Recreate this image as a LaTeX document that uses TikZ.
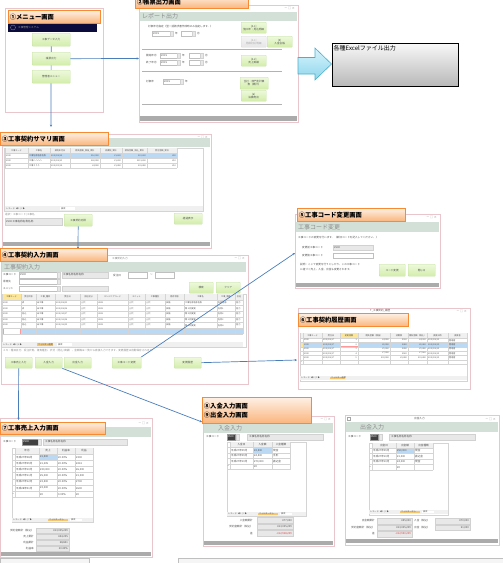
\documentclass[tikz,border=0pt]{standalone}
\usepackage{fontspec}
\setmainfont{Noto Sans CJK JP}
\usetikzlibrary{arrows.meta}

\definecolor{winedge}{HTML}{E8C6CB}
\definecolor{bandc}{HTML}{D3E0D8}
\definecolor{btntop}{HTML}{EEF9DD}
\definecolor{btnbot}{HTML}{D2EDA9}
\definecolor{btnedge}{HTML}{C6E2A2}
\definecolor{lbledge}{HTML}{F68B33}
\definecolor{lbltop}{HTML}{FEF0E4}
\definecolor{lblbot}{HTML}{FAB57C}
\definecolor{linkc}{HTML}{4A7EBB}
\definecolor{barc}{HTML}{ABABAB}
\definecolor{selc}{HTML}{BCD9F4}
\definecolor{navyc}{HTML}{0C0C3C}
\definecolor{hdrc}{HTML}{F0F0F0}
\definecolor{gridc}{HTML}{D4D4D4}
\definecolor{chipc}{HTML}{F7C56B}
\definecolor{yelc}{HTML}{FBE69A}
\definecolor{arrtop}{HTML}{D8F4FC}
\definecolor{arrbot}{HTML}{8ED6EC}
\definecolor{arredge}{HTML}{4BAFCB}
\definecolor{minus}{HTML}{E03C3C}

\tikzset{
  win/.style={draw=winedge, line width=0.7pt},
  lbl/.style={draw=lbledge, line width=0.8pt, top color=lbltop, bottom color=lblbot,
    anchor=north west, inner xsep=1.5pt, inner ysep=0pt, align=left,
    font=\fontsize{6.3}{7.6}\selectfont\bfseries},
  btn/.style={draw=btnedge, line width=0.35pt, top color=btntop, bottom color=btnbot,
    rounded corners=0.6pt, anchor=north west, inner sep=0pt, align=center,
    font=\fontsize{2.6}{3.1}\selectfont, text=black!70},
  offbtn/.style={btn, top color=black!4, bottom color=black!10, draw=black!15, text=black!35},
  tx/.style={font=\fontsize{2.6}{3}\selectfont, text=black!70, inner sep=0pt, anchor=west},
  txs/.style={font=\fontsize{2.1}{2.4}\selectfont, text=black!70, inner sep=0pt},
  ttl/.style={font=\fontsize{6}{7}\selectfont, text=black!45, inner sep=0pt, anchor=west},
  wbox/.style={draw=black!25, line width=0.3pt, fill=white},
  gbox/.style={draw=black!18, line width=0.3pt, fill=black!9},
  dbox/.style={draw=black!40, line width=0.3pt, fill=black!75},
  gl/.style={draw=gridc, line width=0.25pt},
  sep/.style={draw=black!30, line width=1pt},
  navbar/.style={fill=black!6},
  chip/.style={fill=chipc},
  conn/.style={draw=linkc, line width=0.7pt, -{Stealth[length=2.4pt,width=2.2pt]}},
  icons/.style={font=\fontsize{3}{3}\selectfont, text=black!50, inner sep=0pt, anchor=east},
}
% small cell texts: left, right and centred
\newcommand\txL[3]{\node[tx] at (#1,#2) {#3};}
\newcommand\txR[3]{\node[tx, anchor=east] at (#1,#2) {#3};}
\newcommand\txC[3]{\node[tx, anchor=center] at (#1,#2) {#3};}
\newcommand\sxL[3]{\node[txs, anchor=west] at (#1,#2) {#3};}
\newcommand\sxR[3]{\node[txs, anchor=east] at (#1,#2) {#3};}
\newcommand\sxC[3]{\node[txs, anchor=center] at (#1,#2) {#3};}

\begin{document}
\begin{tikzpicture}[x=1pt, y=-1pt]
\useasboundingbox (0,0) rectangle (503,563);

% ---------- (1) menu ----------
\draw[win] (5,8) rectangle (103,112);
\fill[navyc] (8,23) rectangle (97,32);
\draw[black!45, line width=0.3pt] (13,27.5) circle (2.5);
\node[tx, text=black!40] at (18,27.5) {工事管理システム};
\node[btn, minimum width=38pt, minimum height=13pt] (m1) at (32,33) {工事データ入力};
\coordinate (t3) at (51,127);
\draw[conn] (m1.south) -- (t3);
\node[btn, minimum width=38pt, minimum height=13pt] (m2) at (32,52) {帳票出力};
\node[btn, minimum width=38pt, minimum height=13pt] (m3) at (32,70) {管理者メニュー};
\node[lbl, text width=89pt, minimum height=13pt] (l1) at (8,10) {①メニュー画面};
\coordinate (e2) at (139,58.5);
\draw[conn] (m2.east) -- (e2);

% ---------- (2) report output ----------
\draw[win] (139,5) rectangle (298,122);
\node[icons] at (295,8.5) {－ □ ×};
\fill[bandc] (140,12) rectangle (297,21);
\node[ttl] at (142,16.5) {レポート出力};
\txL{148}{27}{対象年月指定（翌一括請求書作成時のみ指定します。）}
\draw[wbox] (152,31) rectangle (172,36); \txL{153}{33.5}{2015}
\draw[gbox] (170,31) rectangle (173,36); \txL{175}{33.5}{年}
\draw[wbox] (181,31) rectangle (195,36); \draw[gbox] (192,31) rectangle (195,36);
\txL{197}{33.5}{月}
\node[btn, minimum width=25pt, minimum height=11pt] (r1) at (241,22) {[4-1]\\施工年・見込明細};
\node[offbtn, minimum width=25pt, minimum height=11pt] (r2) at (241,36) {[4-1]\\見積対応明細};
\node[btn, minimum width=25pt, minimum height=11pt] (r3) at (267,36) {[5]\\入金台帳};
\draw[sep] (142,49) -- (282,49);
\txL{146}{55.5}{開始年月}
\draw[wbox] (160,53) rectangle (180,58); \txL{161}{55.5}{2015}
\draw[gbox] (177,53) rectangle (180,58); \txL{182}{55.5}{年}
\draw[wbox] (189,53) rectangle (203,58); \draw[gbox] (200,53) rectangle (203,58);
\txL{205}{55.5}{月}
\txL{146}{62.5}{終了年月}
\draw[wbox] (160,60) rectangle (180,65); \txL{161}{62.5}{2015}
\draw[gbox] (177,60) rectangle (180,65); \txL{182}{62.5}{年}
\draw[wbox] (189,60) rectangle (203,65); \draw[gbox] (200,60) rectangle (203,65);
\txL{205}{62.5}{月}
\node[btn, minimum width=25pt, minimum height=11pt] (r4) at (241,55) {[4-2]\\売上実績};
\draw[sep] (142,71) -- (282,71);
\txL{146}{81.5}{対象年}
\draw[wbox] (163,79) rectangle (183,84); \txL{164}{81.5}{2015}
\draw[gbox] (180,79) rectangle (183,84); \txL{185}{81.5}{年}
\node[btn, minimum width=28pt, minimum height=12pt] (r5) at (240,77) {全社・部門別計算\\表（累計）};
\node[btn, minimum width=25pt, minimum height=11pt] (r6) at (241,90) {[6]\\決算用出};
\draw[sep] (142,104) -- (282,104);
\fill[barc] (140,116) rectangle (297,121);
\node[lbl, text width=110pt, minimum height=13pt] (l2) at (135,-5) {②帳票出力画面};

% arrow to the Excel output box
\draw[arredge, line width=0.6pt, top color=arrtop, bottom color=arrbot]
  (298,57.5) -- (315,57.5) -- (315,48) -- (331.5,64) -- (315,80) -- (315,74) -- (298,74) -- cycle;
\node[draw=black, line width=0.9pt, top color=black!3, bottom color=black!28,
  anchor=north west, minimum width=126pt, minimum height=43pt, inner sep=0pt] (xl) at (332,43) {};
\node[font=\fontsize{6}{7}\selectfont, inner sep=0pt, anchor=north west]
  (xlt) at ([shift={(1.5,2)}]xl.north west) {各種Excelファイル出力};

% ---------- (3) contract summary ----------
\draw[win] (2,134) rectangle (211,248);
\node[icons] at (208,137.5) {－ □ ×};
\fill[bandc] (3,138) rectangle (210,147);
\draw[gl, fill=white] (4,148) rectangle (203,211);
\fill[hdrc] (5,148) rectangle (177,153);
\fill[selc] (28,153) rectangle (177,158);
\foreach \yy in {153,158,163,168} \draw[gl] (5,\yy) -- (177,\yy);
\foreach \xx in {5,28,50,70,100,122,147,177} \draw[gl] (\xx,148) -- (\xx,168);
\sxC{16.5}{150.5}{工事コード} \sxC{39}{150.5}{工事名} \sxC{60}{150.5}{契約年月日}
\sxC{85}{150.5}{請負金額\_税抜\_累計} \sxC{111}{150.5}{消費税\_累計}
\sxC{134.5}{150.5}{請負金額\_税込\_累計} \sxC{162}{150.5}{受注金額\_累計}
\sxL{6}{155.5}{2500} \sxL{29}{155.5}{工事名称名称名称} \sxL{51}{155.5}{2015/08/20}
\sxR{99}{155.5}{¥16,000} \sxR{121}{155.5}{¥1,280} \sxR{146}{155.5}{¥23,280} \sxR{176}{155.5}{¥80}
\sxL{6}{160.5}{2500} \sxL{29}{160.5}{工事ハハハハ} \sxL{51}{160.5}{2015/08/25}
\sxR{99}{160.5}{¥80,000} \sxR{121}{160.5}{¥1,200} \sxR{146}{160.5}{¥151,200} \sxR{176}{160.5}{¥10}
\sxL{6}{165.5}{2500} \sxL{29}{165.5}{工事ううう} \sxL{51}{165.5}{2015/09/10}
\sxR{99}{165.5}{¥4,000} \sxR{121}{165.5}{¥1,400} \sxR{146}{165.5}{¥38,400} \sxR{176}{165.5}{¥10}
\fill[navbar] (5,206) rectangle (203,211);
\sxL{6}{208.5}{レコード: ◀ 1 / 3 ▶} \fill[white] (60,207) rectangle (75,210); \sxL{61}{208.5}{検索}
\node[tx, text=black!45] at (5,215) {選択：工事コード/工事名};
\draw[gbox] (5,218) rectangle (62,225); \txL{6}{221.5}{2500 工事名称名称名称}
\node[btn, minimum width=28pt, minimum height=12pt] (s1) at (64,214) {工事契約内訳};
\node[btn, minimum width=28pt, minimum height=11pt] (s2) at (174,213) {経過表示};
\fill[barc] (3,242) rectangle (210,246);
\node[lbl, text width=105pt, minimum height=13pt] (l3) at (0,132) {③工事契約サマリ画面};
\coordinate (t4) at (78,249);
\draw[conn] (s1.south) -- (t4);

% ---------- (4) contract input ----------
\draw[win] (1,255) rectangle (248,384);
\node[tx, text=black!50] at (112,259) {工事契約入力};
\node[icons] at (245,258.5) {－ □ ×};
\fill[bandc] (2,262) rectangle (246,272);
\node[ttl] at (4,267) {工事契約入力};
\txL{3}{275}{工事コード}
\draw[wbox] (19,272) rectangle (58,278); \txL{20}{275}{2500}
\draw[gbox] (57,272) rectangle (60,278);
\draw[gbox] (62,272) rectangle (108,278); \txL{63}{275}{工事名称名称名称}
\txL{113}{275}{受注日}
\draw[wbox] (128,272) rectangle (147,278); \txL{150}{275}{～}
\draw[wbox] (155,272) rectangle (174,278);
\txL{3}{281.5}{得意先}
\draw[wbox] (19,279) rectangle (58,284); \draw[gbox] (57,279) rectangle (60,284);
\txL{3}{288.5}{ユニット}
\draw[wbox] (19,286) rectangle (58,291); \draw[gbox] (57,286) rectangle (60,291);
\draw[gbox] (62,286) rectangle (108,291);
\node[btn, minimum width=24pt, minimum height=11pt] (q1) at (189,282) {検索};
\node[btn, minimum width=24pt, minimum height=11pt] (q2) at (216,282) {クリア};
\draw[gl, fill=white] (2,294) rectangle (246,347);
\fill[hdrc] (2,294) rectangle (243,300);
\fill[yelc] (2,294) rectangle (21,300);
\fill[selc] (21,328) rectangle (243,334);
\draw[red!40, line width=0.4pt, fill=white] (3,328.3) rectangle (20.5,333.7);
\foreach \yy in {300,305.6,311.2,316.8,322.4,328,334} \draw[gl] (2,\yy) -- (243,\yy);
\foreach \xx in {2,21,36,55,80,97,128,145,165,184,217,235,243} \draw[gl] (\xx,294) -- (\xx,334);
\sxC{11.5}{297}{工事コード} \sxC{28.5}{297}{受注状態} \sxC{45.5}{297}{工事\_種目}
\sxC{67.5}{297}{受注日} \sxC{88.5}{297}{会社区分} \sxC{112.5}{297}{エンジニアコード}
\sxC{136.5}{297}{ユニット} \sxC{155}{297}{工事種別} \sxC{174.5}{297}{請求状態}
\sxC{200.5}{297}{工事名} \sxC{226}{297}{工事\_略称} \sxC{239}{297}{会社}
\foreach \yy/\st/\dt/\nm/\ab in {302.8/済/08{/}05/工事名称名称名称/名称名称,
  308.4/済/08{/}06/第１回変更/名称1, 314/見込/10{/}07/第２回変更/名称2,
  319.6/見込/11{/}08/第３回変更/名称3, 325.2/見込/12{/}09/第４回変更/名称4} {
  \sxL{3}{\yy}{2500} \sxL{22}{\yy}{\st} \sxL{37}{\yy}{未工事}
  \sxL{56}{\yy}{2015/\dt} \sxL{81}{\yy}{上代} \sxL{98}{\yy}{U001}
  \sxL{129}{\yy}{上代} \sxL{146}{\yy}{上代} \sxL{166}{\yy}{承諾}
  \sxL{185}{\yy}{\nm} \sxL{218}{\yy}{\ab} \sxL{236}{\yy}{協力}
}
\fill[navbar] (2,342) rectangle (243,347);
\sxL{3}{344.5}{レコード: ◀ 6 / 6 ▶}
\fill[chipc] (37,343) rectangle (53,346); \sxL{38}{344.5}{フィルター適用}
\fill[white] (57,343) rectangle (72,346); \sxL{58}{344.5}{検索}
\node[tx, text=black!45] at (3,351)
  {メモ：種目区分、受注状態、請負種別、状況（見込/実績）、金額等は一覧から直接入力できます。変更履歴は自動保存されます。};
\node[btn, minimum width=27pt, minimum height=11pt] (u1) at (5,357) {工事売上入力};
\node[btn, minimum width=27pt, minimum height=11pt] (u2) at (35,357) {入金入力};
\node[btn, minimum width=27pt, minimum height=11pt] (u3) at (64,357) {出金入力};
\node[btn, minimum width=29pt, minimum height=11pt] (u4) at (112,357) {工事コード変更};
\node[btn, minimum width=27pt, minimum height=11pt] (u5) at (174,357) {変更履歴};
\node[lbl, text width=104pt, minimum height=13pt] (l4) at (0,248) {④工事契約入力画面};

% ---------- (5) code change ----------
\draw[win] (295,214) rectangle (440,288);
\node[icons] at (437,217.5) {－ □ ×};
\fill[bandc] (296,222) rectangle (439,232);
\node[ttl] at (298,227) {工事コード変更};
\txL{298}{237.5}{工事コードの変更を行います。（新旧コードを記入してください。）}
\txL{302}{247.5}{変更前工事コード}
\draw[gbox] (333,245) rectangle (373,250); \txL{334}{247.5}{2500}
\txL{302}{255.5}{変更後工事コード}
\draw[wbox] (333,253) rectangle (373,258);
\txL{300}{265}{説明：ここで変更を行うとしかり、この工事コード}
\txL{300}{270}{に紐づく売上、入金、出金も変更されます。}
\node[btn, minimum width=26pt, minimum height=12pt] (c1) at (379,264) {コード変更};
\node[btn, minimum width=27pt, minimum height=12pt] (c2) at (408,264) {閉じる};
\fill[barc] (296,283) rectangle (439,287);
\node[lbl, text width=105pt, minimum height=13pt] (l5) at (297,208) {⑤工事コード変更画面};

% ---------- (6) contract history ----------
\draw[win] (298,308) rectangle (470,389);
\txL{370}{311}{T\_工事契約\_履歴}
\node[icons] at (467,311) {－ □ ×};
\draw[gl, fill=white] (300,333) rectangle (467,381);
\fill[hdrc] (300,333) rectangle (467,338);
\fill[yelc] (340,333) rectangle (358,338);
\fill[selc] (303,342.4) rectangle (467,346.8);
\fill[yelc] (300,342.4) rectangle (303,346.8);
\draw[red!40, line width=0.4pt, fill=white] (340.3,342.6) rectangle (357.7,346.6);
\foreach \yy in {338,342.4,346.8,351.2,355.6,360,364.4} \draw[gl] (300,\yy) -- (467,\yy);
\foreach \xx in {300,303,322,340,358,390,408,427,448,467} \draw[gl] (\xx,333) -- (\xx,364.4);
\sxC{312.5}{335.5}{工事コード} \sxC{331}{335.5}{受注日} \sxC{349}{335.5}{変更回数}
\sxC{374}{335.5}{請負金額（税抜）} \sxC{399}{335.5}{消費税} \sxC{417.5}{335.5}{請負金額（税込）}
\sxC{437.5}{335.5}{変更日時} \sxC{457.5}{335.5}{変更者}
\foreach \yy/\n/\a/\b/\c in {340.2/1/{¥4,000}/¥320/{¥4,320}, 344.6/2/{¥6,000}/¥480/{¥6,480},
  349/3/{¥5,000}/¥400/{¥5,400}, 353.4/4/{¥7,000}/¥560/{¥7,560}, 357.8/5/{¥30,000}/{¥2,400}/{¥32,400}} {
  \sxL{304}{\yy}{2500} \sxL{323}{\yy}{2015/08/17} \sxR{357}{\yy}{\n}
  \sxR{389}{\yy}{\a} \sxR{407}{\yy}{\b} \sxR{426}{\yy}{\c}
  \sxL{428}{\yy}{2015/08/19} \sxL{449}{\yy}{管理者}
}
\sxL{301}{362.2}{*}
\fill[navbar] (300,376) rectangle (467,380);
\sxL{301}{378}{レコード: ◀ 2 / 5 ▶}
\fill[chipc] (330,376.6) rectangle (345,379.4); \sxL{331}{378}{フィルター適用}
\node[lbl, text width=107pt, minimum height=13pt] (l6) at (298,313) {⑥工事契約履歴画面};

% ---------- (7) sales input ----------
\draw[win] (0.5,418) rectangle (152,557);
\node[icons] at (149,423) {－ □ ×};
\fill[bandc] (1,427) rectangle (151,437);
\txL{3}{442}{工事コード}
\draw[dbox] (22,439) rectangle (38,445); \node[tx, text=white] at (23,442) {2500};
\draw[gbox] (38,439) rectangle (41,445);
\draw[gbox] (43,439) rectangle (127,445); \txL{45}{442}{工事名称名称名称}
\draw[gl, fill=white] (12,448) rectangle (93,522);
\fill[hdrc] (15,448) rectangle (93,454);
\fill[selc] (39,454) rectangle (57,460.2);
\foreach \yy in {454,460.2,466.4,472.6,478.8,485,491.2,497.4} \draw[gl] (12,\yy) -- (93,\yy);
\foreach \xx in {15,39,57,75,93} \draw[gl] (\xx,448) -- (\xx,497.4);
\txC{27}{451}{年月} \txC{48}{451}{売上} \txC{66}{451}{利益率} \txC{84}{451}{利益}
\foreach \yy/\m/\s/\p in {457.1/平成27年08月/{¥1,500}/¥300, 463.3/平成27年09月/{¥1,205}/¥241,
  469.5/平成27年10月/{¥30,000}/{¥6,000}, 475.7/平成27年11月/{¥5,000}/{¥1,000},
  481.9/平成27年12月/{¥3,500}/¥700, 488.1/平成28年01月/{¥3,000}/¥600} {
  \txL{16}{\yy}{\m} \txL{40}{\yy}{\s} \txL{58}{\yy}{20.00\%} \txL{76}{\yy}{\p}
}
\txL{12.5}{494.3}{*} \txL{40}{494.3}{¥0} \txL{58}{494.3}{0.00\%} \txL{76}{494.3}{¥0}
\fill[navbar] (12,518) rectangle (93,522);
\sxL{13}{520}{レコード: ◀ 1 / 7 ▶}
\fill[chipc] (48,518.6) rectangle (68,521.4); \sxL{49}{520}{フィルターなし}
\fill[white] (70,518.6) rectangle (82,521.4); \sxL{71}{520}{検索}
\foreach \yy/\lab/\v in {530.5/契約金額計（税込）/{¥13,005,209}, 536.5/売上累計/{¥44,205},
  542.5/利益累計/{¥8,841}, 548.5/利益率/20.00\%} {
  \txR{34}{\yy}{\lab}
  \draw[gbox] (36,\yy-2.5) rectangle (69,\yy+2.5);
  \txR{68}{\yy}{\v}
}
\fill[barc] (1,552) rectangle (151,556);
\node[lbl, text width=102pt, minimum height=12pt] (l7) at (0,422) {⑦工事売上入力画面};

% ---------- (8) deposit input ----------
\draw[win] (203,416) rectangle (334,546);
\node[icons] at (331,419.5) {－ □ ×};
\fill[bandc] (204,423) rectangle (333,433);
\node[ttl] at (218,428) {入金入力};
\txL{206}{437}{工事コード}
\draw[dbox] (227,434) rectangle (235,440); \node[tx, text=white] at (227.5,437) {2500};
\draw[gbox] (236,434) rectangle (239,440);
\draw[gbox] (247,434) rectangle (323,440); \txL{249}{437}{工事名称名称名称}
\draw[gl, fill=white] (227,442) rectangle (306,516);
\fill[hdrc] (230,442) rectangle (290,447.5);
\fill[selc] (253,447.5) rectangle (272,453);
\foreach \yy in {447.5,453,458.5,464,469.5} \draw[gl] (227,\yy) -- (290,\yy);
\foreach \xx in {230,253,272,290} \draw[gl] (\xx,442) -- (\xx,469.5);
\txC{241.5}{444.8}{入金日} \txC{262.5}{444.8}{入金額} \txC{281}{444.8}{入金種類}
\foreach \yy/\d/\a/\k in {450.3/平成27年09月/{¥2,500}/現金, 455.8/平成27年09月/{¥4,500}/手形,
  461.3/平成27年10月/{¥70,000}/振込金} {
  \txL{231}{\yy}{\d} \txL{254}{\yy}{\a} \txL{273}{\yy}{\k}
}
\txL{227.5}{466.8}{*} \txL{254}{466.8}{¥0}
\fill[navbar] (227,512) rectangle (306,516);
\sxL{228}{514}{レコード: ◀ 1 / 3 ▶}
\fill[chipc] (258,512.6) rectangle (278,515.4); \sxL{259}{514}{フィルターなし}
\fill[white] (280,512.6) rectangle (292,515.4); \sxL{281}{514}{検索}
\foreach \yy/\lab/\v in {520.3/入金額累計/{¥77,000}, 526.8/契約金額計（税込）/{¥13,005,209}} {
  \txR{253}{\yy}{\lab}
  \draw[gbox] (257,\yy-2.8) rectangle (293,\yy+2.8);
  \txR{292}{\yy}{\v}
}
\txR{253}{533.3}{差}
\draw[gbox] (257,530.5) rectangle (293,536.1);
\node[tx, anchor=east, text=minus] at (292,533.3) {-¥12,928,209};
\fill[barc] (204,541) rectangle (333,545);
\node[lbl, text width=106pt, minimum height=26pt, font=\fontsize{6.3}{9}\selectfont\bfseries]
  (l8) at (202,397) {⑧入金入力画面\\⑨出金入力画面};
\coordinate (e8) at (202,422);
\draw[conn] (u2.south east) -- (e8);

% ---------- (9) payment input ----------
\draw[win] (345,415) rectangle (499,545);
\draw[black!35, line width=0.3pt] (347,417) rectangle (350,420.5);
\txL{414}{419}{出金入力}
\node[icons] at (496,419) {－ □ ×};
\fill[bandc] (346,422) rectangle (498,432);
\node[ttl] at (360,427) {出金入力};
\txL{348}{437}{工事コード}
\draw[dbox] (370,434) rectangle (378,440); \node[tx, text=white] at (370.5,437) {2500};
\draw[gbox] (379,434) rectangle (382,440);
\draw[gbox] (389,434) rectangle (475,440); \txL{391}{437}{工事名称名称名称}
\draw[gl, fill=white] (369,443) rectangle (448,515);
\fill[hdrc] (372,443) rectangle (433,448);
\fill[selc] (396,448) rectangle (414,453.5);
\foreach \yy in {448,453.5,459,464.5,470} \draw[gl] (369,\yy) -- (433,\yy);
\foreach \xx in {372,396,414,433} \draw[gl] (\xx,443) -- (\xx,470);
\txC{384}{445.5}{出金日} \txC{405}{445.5}{出金額} \txC{423.5}{445.5}{出金種類}
\foreach \yy/\d/\a/\k in {450.8/平成27年09月/{¥50,000}/現金, 456.3/平成27年10月/{¥1,000}/振込金,
  461.8/平成27年10月/{¥4,000}/現金} {
  \txL{373}{\yy}{\d} \txL{397}{\yy}{\a} \txL{415}{\yy}{\k}
}
\txL{369.5}{467.3}{*} \txL{397}{467.3}{¥0}
\fill[navbar] (369,510) rectangle (448,514);
\sxL{370}{512}{レコード: ◀ 1 / 3 ▶}
\fill[chipc] (400,510.6) rectangle (420,513.4); \sxL{401}{512}{フィルターなし}
\fill[white] (422,510.6) rectangle (434,513.4); \sxL{423}{512}{検索}
\foreach \yy/\lab/\v in {521/出金額累計/{¥55,000}, 527.5/契約金額計（税込）/{¥13,005,209}} {
  \txR{375}{\yy}{\lab}
  \draw[gbox] (377,\yy-2.8) rectangle (412,\yy+2.8);
  \txR{411}{\yy}{\v}
}
\txR{375}{534}{差}
\draw[gbox] (377,531.2) rectangle (412,536.8);
\node[tx, anchor=east, text=minus] at (411,534) {-¥12,950,209};
\foreach \yy/\lab/\v in {521/入金（税込）/{¥70,000}, 527.5/出金（税込）/{¥1,000}} {
  \txL{414}{\yy}{\lab}
  \draw[gbox] (435,\yy-2.8) rectangle (470,\yy+2.8);
  \txR{469}{\yy}{\v}
}
\fill[barc] (346,539) rectangle (498,543);

% windows cut off at the lower edge
\draw[black!25, line width=0.5pt, fill=black!4] (0,563.5) -- (0,558.5) -- (89,558.5) -- (89,563.5);
\draw[black!25, line width=0.5pt, fill=black!4] (178,563.5) -- (178,558.5) -- (503.5,558.5) -- (503.5,563.5);

% links between the screens
\coordinate (e5) at (295,253);
\draw[conn] (u4.north east) -- (e5);
\coordinate (e6) at (297,360);
\draw[conn] (u5.east) -- (e6);
\coordinate (e7) at (18.5,420);
\draw[conn] (u1.south) -- (e7);
\end{tikzpicture}
\end{document}
